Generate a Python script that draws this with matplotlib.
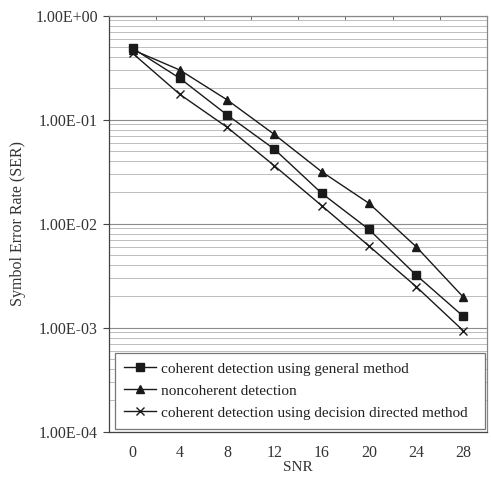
import matplotlib
matplotlib.use("Agg")
import matplotlib.pyplot as plt
from matplotlib.ticker import LogLocator, FixedLocator, NullFormatter

snr = [0, 4, 8, 12, 16, 20, 24, 28]
coherent_general = [0.486, 0.25, 0.111, 0.052, 0.0196, 0.0088, 0.0032, 0.00128]
noncoherent = [0.47, 0.30, 0.155, 0.072, 0.0316, 0.0157, 0.006, 0.00196]
coherent_dd = [0.435, 0.175, 0.0845, 0.036, 0.0149, 0.0061, 0.00248, 0.00093]
labels = ["coherent detection using general method",
          "noncoherent detection",
          "coherent detection using decision directed method"]
ytick_vals = [1e-4, 1e-3, 1e-2, 1e-1, 1e0]
ytick_labels = ["1.00E-04", "1.00E-03", "1.00E-02", "1.00E-01", "1.00E+00"]

plt.rcParams['font.family'] = ['Liberation Serif', 'DejaVu Serif']
fig = plt.figure(figsize=(4.91, 4.80), dpi=100)
ax = fig.add_axes([109/491, 1-431.5/480, 378/491, (431.5-15.7)/480])

lc = '#1a1a1a'
ax.plot(snr, coherent_general, color=lc, lw=1.0, marker='s', ms=6, label=labels[0])
ax.plot(snr, noncoherent, color=lc, lw=1.0, marker='^', ms=6, label=labels[1])
ax.plot(snr, coherent_dd, color=lc, lw=1.0, marker='x', ms=6, mew=1.0, label=labels[2])

ax.set_yscale('log')
ax.set_ylim(1e-4, 1)
ax.set_xlim(-2, 30)
ax.set_yticks(ytick_vals)
ax.set_yticklabels(ytick_labels)
ax.yaxis.set_minor_locator(LogLocator(base=10, subs=range(2, 10)))
ax.yaxis.set_minor_formatter(NullFormatter())
ax.set_xticks(snr)
ax.set_xticklabels([str(s) for s in snr])

ax.grid(True, which='major', axis='y', color='#8c8c8c', lw=0.8)
ax.grid(True, which='minor', axis='y', color='#bdbdbd', lw=0.7)
ax.set_axisbelow(True)

ax.tick_params(axis='y', which='major', direction='out', length=4, width=0.8,
               color='#444444', labelsize=11.5, labelcolor='#333333', pad=4)
ax.tick_params(axis='y', which='minor', length=0)
ax.tick_params(axis='x', which='major', length=0, labelsize=11.5,
               labelcolor='#333333', pad=10)
# small inward ticks on top at category boundaries
ax.xaxis.set_minor_locator(FixedLocator([2, 6, 10, 14, 18, 22, 26]))
ax.tick_params(axis='x', which='minor', top=True, bottom=False, direction='in',
               length=3, width=0.7, color='#666666')

for side in ['left', 'bottom']:
    ax.spines[side].set_color('#444444')
    ax.spines[side].set_linewidth(0.9)
for side in ['top', 'right']:
    ax.spines[side].set_color('#888888')
    ax.spines[side].set_linewidth(0.9)

ax.set_ylabel('Symbol Error Rate (SER)', fontsize=11.5, color='#333333', labelpad=7)
ax.set_xlabel('SNR', fontsize=11, color='#333333', labelpad=0)

leg = ax.legend(loc='lower left', bbox_to_anchor=(0.016, 0.006, 0.979, 0.18),
                mode='expand', borderaxespad=0, fancybox=False, framealpha=1,
                edgecolor='#777777', fontsize=11, handlelength=2.1,
                handletextpad=0.3, labelspacing=0.55, borderpad=0.6)
leg.get_frame().set_linewidth(0.9)
for t in leg.get_texts():
    t.set_color('#222222')

fig.savefig('out.png', dpi=100)
